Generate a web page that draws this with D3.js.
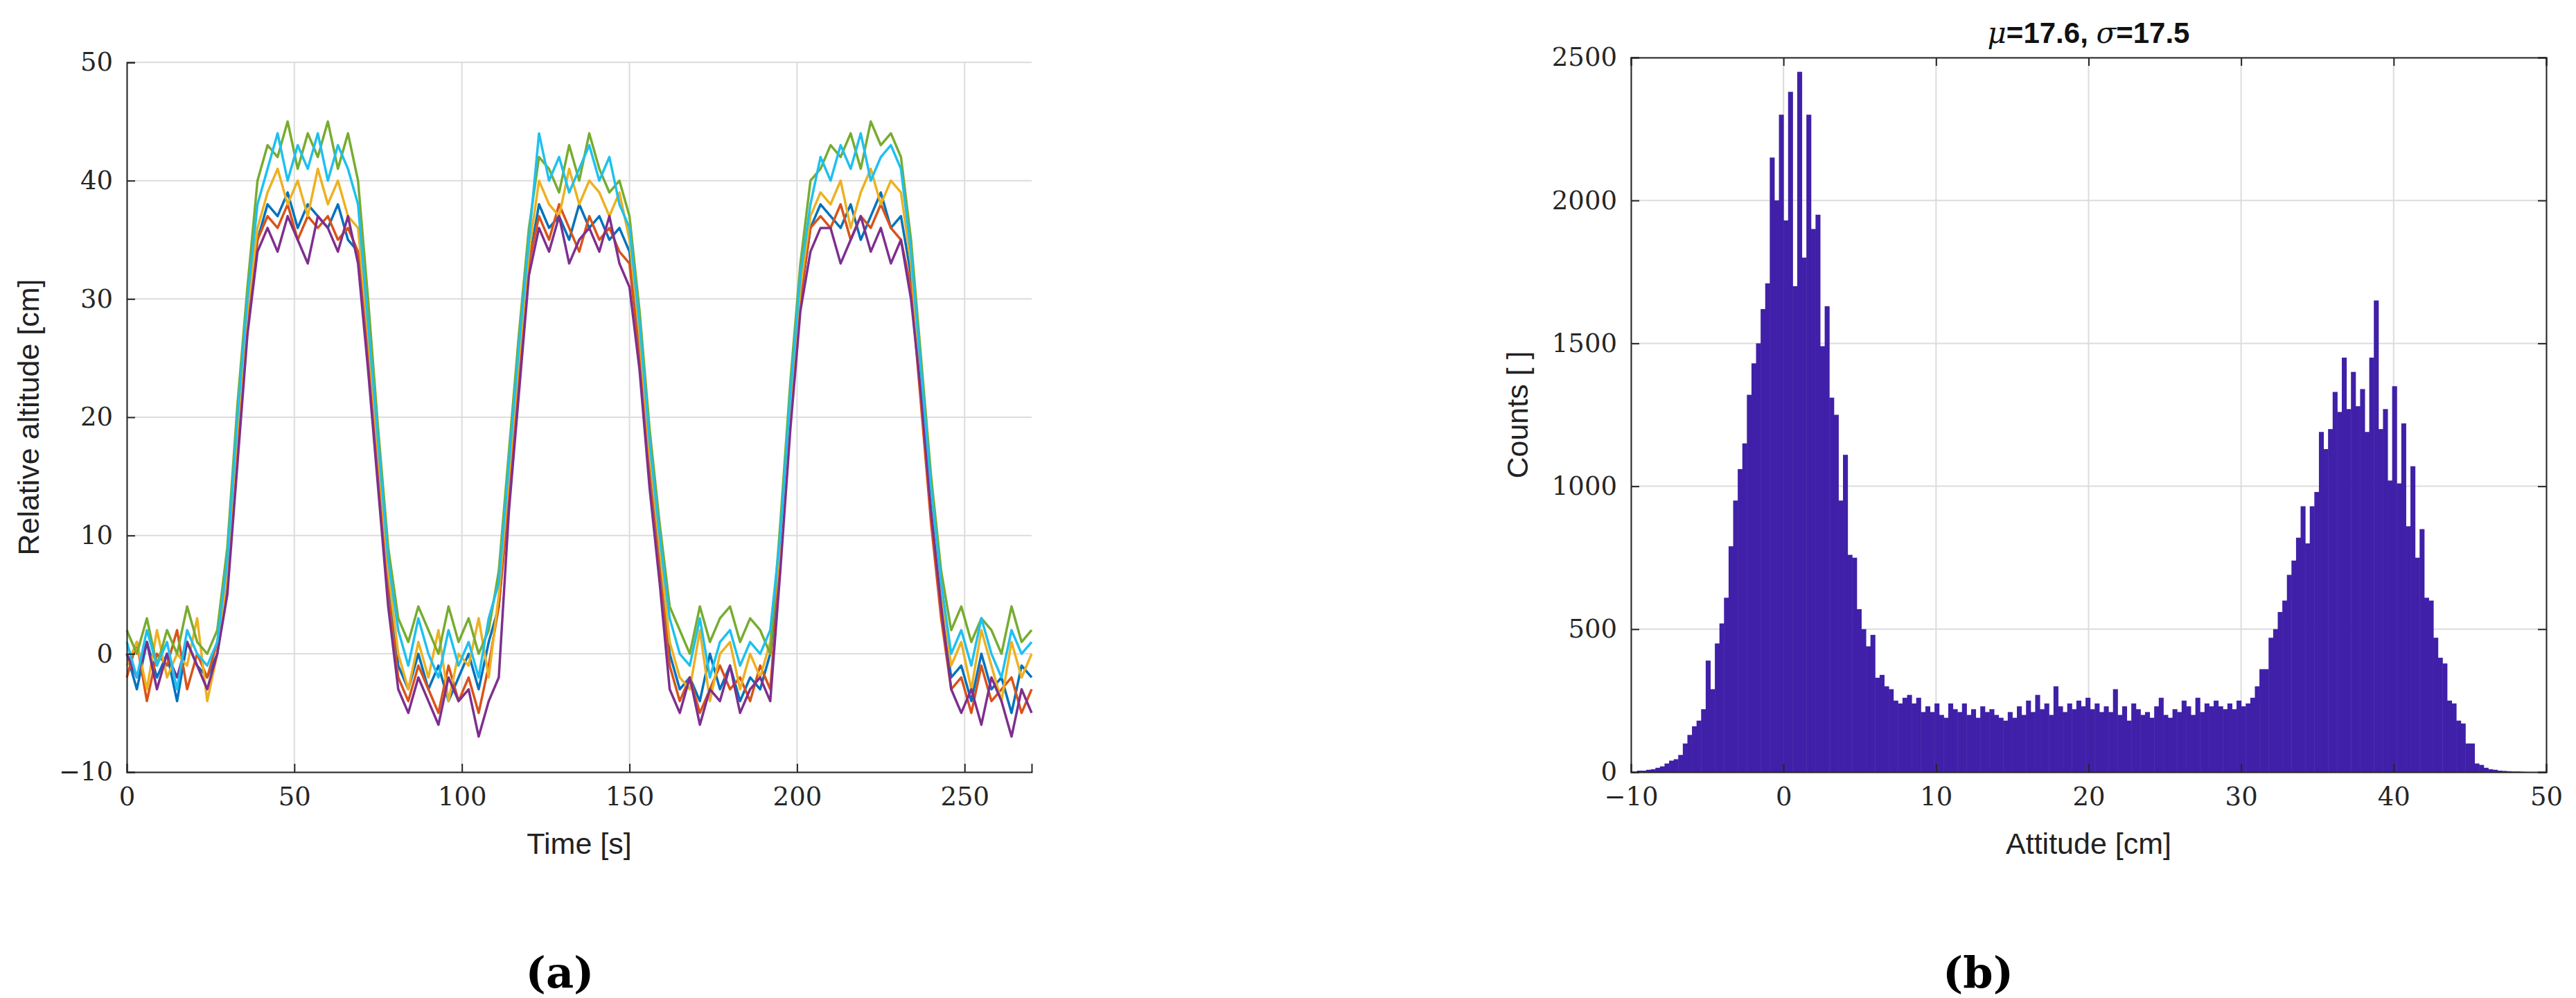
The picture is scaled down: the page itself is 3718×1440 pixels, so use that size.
<!DOCTYPE html><html><head><meta charset="utf-8"><script src="https://cdn.jsdelivr.net/npm/d3@7"></script>
<style>body{margin:0;background:#fff}</style></head><body><svg id="c" width="3718" height="1440"></svg>
<script>
const timeStep = 3;
const seriesColors = ["#0072BD","#D95319","#EDB120","#7E2F8E","#77AC30","#1EC0F0"];
const blue = [0,-3,1,-2,0,-4,1,-1,-2,0, 6,18,28,35,38,37,39,36,38,37, 36,38,35,34,26,16,6,-1,-3,0, -3,-1,-4,-2,0,-3,1,4,14,24, 33,38,36,37,35,38,36,37,35,36, 34,26,16,8,0,-3,-2,-4,0,-3, -1,-4,-2,-3,0,8,20,30,36,38, 37,36,38,35,37,39,36,37,32,22, 12,4,-2,-1,-4,0,-3,-2,-5,-1,-2];
const red = [-2,1,-4,0,-1,2,-3,0,-2,1, 6,17,28,35,37,36,38,35,37,36, 37,35,36,34,25,15,5,-2,-4,-1, -3,-5,-1,-4,-2,-5,-1,4,13,23, 33,37,35,38,36,34,37,35,36,34, 33,25,15,7,-1,-4,-2,-5,-3,-1, -3,-2,-4,-1,-3,8,20,30,36,37, 36,38,35,37,36,38,36,35,31,21, 11,3,-3,-2,-5,-1,-4,-3,-2,-5,-3];
const orange = [-1,1,-3,2,-2,0,-1,3,-4,0, 7,19,29,36,39,41,38,40,37,41, 38,40,37,36,27,17,7,0,-3,1, -2,2,-4,0,-1,3,-2,5,15,25, 34,40,38,37,41,38,40,39,37,39, 35,27,17,9,1,-2,-3,2,-4,0, 1,-3,0,-2,1,9,21,31,37,39, 38,40,36,39,41,38,40,39,33,23, 13,5,-1,1,-3,2,-1,-4,1,-2,0];
const purple = [0,-2,1,-3,0,-2,1,-1,-3,0, 5,16,27,34,36,34,37,35,33,37, 36,34,37,33,24,14,4,-3,-5,-2, -4,-6,-2,-4,-3,-7,-4,-2,12,22, 32,36,34,37,33,35,36,34,37,33, 31,24,14,6,-3,-5,-2,-6,-3,-4, -1,-5,-3,-2,-4,7,19,29,34,36, 36,33,35,37,34,36,33,35,30,22, 12,4,-3,-5,-3,-6,-2,-4,-7,-3,-5];
const green = [2,0,3,-1,2,0,4,1,0,2, 9,21,31,40,43,42,45,41,44,42, 45,41,44,40,30,19,9,3,1,4, 2,0,4,1,3,0,2,7,17,27, 36,42,41,39,43,40,44,41,39,40, 37,29,19,11,4,2,0,4,1,3, 4,1,3,2,0,11,23,33,40,41, 43,42,44,41,45,43,44,42,35,25, 15,7,2,4,1,3,2,0,4,1,2];
const cyan = [1,-2,2,-1,1,-3,2,0,-1,1, 8,20,30,38,41,44,40,43,41,44, 40,43,41,38,28,18,8,2,-1,3, 0,-2,2,-1,1,-2,3,6,16,26, 35,44,40,42,39,41,43,40,42,38, 36,28,18,10,3,0,-1,3,-2,1, 2,-1,1,0,2,10,22,32,38,42, 40,43,41,44,40,42,43,41,34,24, 14,6,0,2,-1,3,0,-2,2,0,1];
const allSeries = [blue, red, orange, purple, green, cyan];
const leftXTicks = [0,50,100,150,200,250];
const leftYTicks = [-10,0,10,20,30,40,50];

const binStart = -9.6, binWidth = 0.3;
const counts = [5,5,8,10,15,20, 30,40,45,60,100,130,160,180,220,
390,290,450,520,610,790,950,1060,1150,1320,1430,1500,1620,1710,2150,2000,2300,1930,2380,1700,2450,1800,2300,1900,1950,1490,1630,1310,1250,950,1110,760,750,570,500,440,480,330,340,300,290,250,240,260,270,240,260,210,230,210,240,200,190,240,
220,210,240,200,220,190,230,210,220,200,190,180,210,190,230,200,250,210,270,220,240,200,300,230,210,240,220,250,230,260,220,240,210,230,210,290,200,230,180,240,220,200,210,190,230,260,200,190,220,210,250,230,200,260,210,240,230,250,230,220,240,220,250,230,240,260,300,
360,360,470,500,560,600,690,740,820,930,800,930,980,1190,1130,1200,1330,1260,1450,1270,1400,1280,1340,1190,1450,1650,1200,1270,1020,1350,1010,1220,860,1070,750,850,610,600,470,400,380,250,240,180,170,100,100,30,25,15,10,8,5,4,3,2,2,1];
const rightXTicks = [-10,0,10,20,30,40,50];
const rightYTicks = [0,500,1000,1500,2000,2500];

const svg = d3.select("#c");
const serif = "'DejaVu Serif','Liberation Serif',serif", sans = "'Liberation Sans',Arial,sans-serif";
function fmt(v){return v<0?"\u2212"+(-v):String(v);}

// Left plot
const L = {l:183,r:1489,t:90,b:1114};
const x1 = d3.scaleLinear().domain([0,270]).range([L.l,L.r]);
const y1 = d3.scaleLinear().domain([-10,50]).range([L.b,L.t]);
const g1 = svg.append("g");
g1.selectAll(".gx").data(leftXTicks).join("line").attr("x1",d=>x1(d)).attr("x2",d=>x1(d)).attr("y1",L.t).attr("y2",L.b).attr("stroke","#dcdcdc").attr("stroke-width",2);
g1.selectAll(".gy").data(leftYTicks).join("line").attr("y1",d=>y1(d)).attr("y2",d=>y1(d)).attr("x1",L.l).attr("x2",L.r).attr("stroke","#dcdcdc").attr("stroke-width",2);
const line = d3.line().x((d,i)=>x1(i*timeStep)).y(d=>y1(d));
allSeries.forEach((s,k)=>g1.append("path").attr("d",line(s)).attr("fill","none").attr("stroke",seriesColors[k]).attr("stroke-width",3.5).attr("stroke-linejoin","round"));
const ax1 = g1.append("g").attr("transform",`translate(0,${L.b})`).call(d3.axisBottom(x1).tickValues(leftXTicks).tickSize(-12).tickPadding(22).tickFormat(fmt));
const ay1 = g1.append("g").attr("transform",`translate(${L.l},0)`).call(d3.axisLeft(y1).tickValues(leftYTicks).tickSize(-12).tickPadding(20).tickFormat(fmt));
[ax1,ay1].forEach(a=>{a.selectAll("text").attr("font-family",serif).attr("font-size",37).attr("fill","#262626");a.selectAll("path,line").attr("stroke","#262626").attr("stroke-width",2);});
g1.append("text").attr("x",(L.l+L.r)/2).attr("y",1232).attr("text-anchor","middle").attr("font-family",sans).attr("font-size",43).attr("fill","#222").text("Time [s]");
g1.append("text").attr("transform",`translate(56,${(L.t+L.b)/2}) rotate(-90)`).attr("text-anchor","middle").attr("font-family",sans).attr("font-size",43).attr("fill","#222").text("Relative altitude [cm]");
svg.append("text").attr("x",808).attr("y",1425).attr("text-anchor","middle").attr("font-family",serif).attr("font-size",62).attr("font-weight","bold").text("(a)");

// Right plot
const R = {l:2354,r:3675,t:83,b:1114};
const x2 = d3.scaleLinear().domain([-10,50]).range([R.l,R.r]);
const y2 = d3.scaleLinear().domain([0,2500]).range([R.b,R.t]);
const g2 = svg.append("g");
g2.selectAll(".gx").data(rightXTicks).join("line").attr("x1",d=>x2(d)).attr("x2",d=>x2(d)).attr("y1",R.t).attr("y2",R.b).attr("stroke","#dcdcdc").attr("stroke-width",2);
g2.selectAll(".gy").data(rightYTicks).join("line").attr("y1",d=>y2(d)).attr("y2",d=>y2(d)).attr("x1",R.l).attr("x2",R.r).attr("stroke","#dcdcdc").attr("stroke-width",2);
g2.selectAll("rect").data(counts).join("rect").attr("x",(d,i)=>x2(binStart+i*binWidth)).attr("width",(d,i)=>x2(binStart+(i+1)*binWidth)-x2(binStart+i*binWidth)+0.5).attr("y",d=>y2(d)).attr("height",d=>R.b-y2(d)).attr("fill","#4020A8");
const ax2 = g2.append("g").attr("transform",`translate(0,${R.b})`).call(d3.axisBottom(x2).tickValues(rightXTicks).tickSize(-12).tickPadding(22).tickFormat(fmt));
const ay2 = g2.append("g").attr("transform",`translate(${R.l},0)`).call(d3.axisLeft(y2).tickValues(rightYTicks).tickSize(-12).tickPadding(20).tickFormat(fmt));
const at2 = g2.append("g").attr("transform",`translate(0,${R.t})`).call(d3.axisTop(x2).tickValues(rightXTicks).tickSize(-12).tickFormat(""));
const ar2 = g2.append("g").attr("transform",`translate(${R.r},0)`).call(d3.axisRight(y2).tickValues(rightYTicks).tickSize(-12).tickFormat(""));
[ax2,ay2,at2,ar2].forEach(a=>{a.selectAll("text").attr("font-family",serif).attr("font-size",37).attr("fill","#262626");a.selectAll("path,line").attr("stroke","#262626").attr("stroke-width",2);});
g2.append("text").attr("x",(R.l+R.r)/2).attr("y",1232).attr("text-anchor","middle").attr("font-family",sans).attr("font-size",43).attr("fill","#222").text("Attitude [cm]");
g2.append("text").attr("transform",`translate(2205,${(R.t+R.b)/2}) rotate(-90)`).attr("text-anchor","middle").attr("font-family",sans).attr("font-size",43).attr("fill","#222").text("Counts [ ]");
const ttl = g2.append("text").attr("x",(R.l+R.r)/2).attr("y",62).attr("text-anchor","middle").attr("font-family",sans).attr("font-size",42).attr("font-weight","bold").attr("fill","#111");
ttl.append("tspan").attr("font-family",serif).attr("font-style","italic").attr("font-weight","normal").text("\u03BC");
ttl.append("tspan").text("=17.6, ");
ttl.append("tspan").attr("font-family",serif).attr("font-style","italic").attr("font-weight","normal").text("\u03C3");
ttl.append("tspan").text("=17.5");
svg.append("text").attr("x",2855).attr("y",1425).attr("text-anchor","middle").attr("font-family",serif).attr("font-size",62).attr("font-weight","bold").text("(b)");
</script></body></html>
